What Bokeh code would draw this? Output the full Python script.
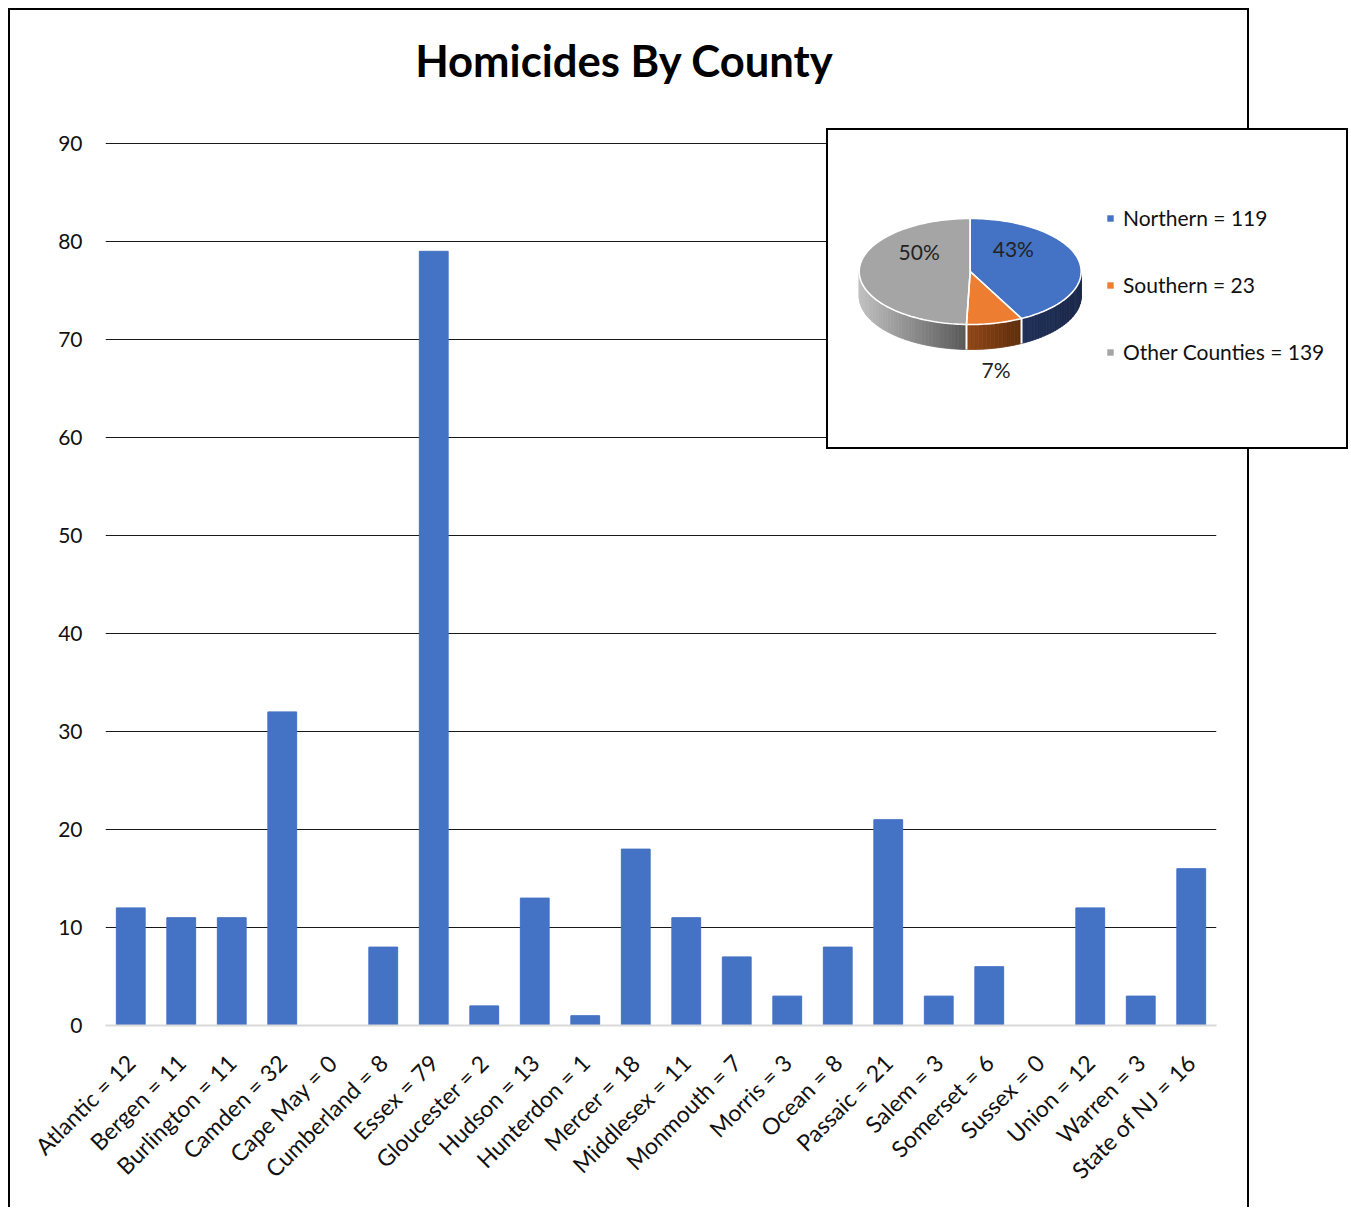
import math
import numpy as np
from bokeh.plotting import figure
from bokeh.models import (ColumnDataSource, FactorRange, Range1d, FixedTicker,
                          Legend, LegendItem, Label)
from bokeh.core.properties import value
from bokeh.embed import file_html
from bokeh.resources import INLINE

# ---------------- data ----------------
title_text = "Homicides By County"
counties = ["Atlantic", "Bergen", "Burlington", "Camden", "Cape May", "Cumberland",
            "Essex", "Gloucester", "Hudson", "Hunterdon", "Mercer", "Middlesex",
            "Monmouth", "Morris", "Ocean", "Passaic", "Salem", "Somerset", "Sussex",
            "Union", "Warren", "State of NJ"]
homicides = [12, 11, 11, 32, 0, 8, 79, 2, 13, 1, 18, 11, 7, 3, 8, 21, 3, 6, 0, 12, 3, 16]
y_ticks = [0, 10, 20, 30, 40, 50, 60, 70, 80, 90]

regions = ["Northern", "Southern", "Other Counties"]
region_counts = [119, 23, 139]
region_pct_text = ["43%", "7%", "50%"]

# ---------------- styles ----------------
FONT = "Lato"
BAR_COLOR = "#4472C4"
top_colors = ["#4472C4", "#ED7D31", "#A5A5A5"]
side_left = [(33, 49, 88), (146, 72, 24), (192, 192, 192)]
side_right = [(27, 40, 74), (94, 45, 12), (88, 88, 88)]
label_r = [0.40, 1.05, 0.46]
label_dy = [-18, 44, -20]

labels = [f"{c} = {v}" for c, v in zip(counties, homicides)]

# ---------------- main bar chart ----------------
W, H = 1241, 1199
FRAME_BOTTOM = 1015          # canvas px of the value 0
PX_PER_UNIT = 9.8
p = figure(width=W, height=H, x_range=FactorRange(*labels),
           y_range=Range1d(0, FRAME_BOTTOM / PX_PER_UNIT),
           output_backend="svg", toolbar_location=None,
           min_border_left=95, min_border_right=35, min_border_top=0,
           min_border_bottom=H - FRAME_BOTTOM)
p.styles = {"margin-left": "8px", "margin-top": "8px",
            "border-left": "2px solid black", "border-top": "2px solid black",
            "border-right": "2px solid black"}
p.outline_line_color = None
p.background_fill_color = "white"
p.border_fill_color = "white"

p.add_layout(Label(x=519, y=966, x_units="screen", y_units="screen", text=title_text,
                   text_align="center", text_baseline="alphabetic",
                   text_font=FONT, text_font_size="43.6px", text_font_style="bold",
                   text_color="black"))

src = ColumnDataSource(dict(x=labels, top=homicides))
p.vbar(x="x", top="top", width=0.57, source=src, fill_color=BAR_COLOR, line_color=BAR_COLOR)

p.yaxis.ticker = FixedTicker(ticks=y_ticks)
p.yaxis.axis_line_color = None
p.yaxis.major_tick_line_color = None
p.yaxis.minor_tick_line_color = None
p.yaxis.major_label_text_font = FONT
p.yaxis.major_label_text_font_size = "21px"
p.yaxis.major_label_text_color = "#111111"
p.yaxis.major_label_standoff = 17

p.xaxis.axis_line_color = "#d9d9d9"
p.xaxis.axis_line_width = 2
p.xaxis.major_tick_line_color = None
p.xaxis.minor_tick_line_color = None
p.xaxis.major_label_orientation = math.pi / 4
p.xaxis.major_label_text_font = FONT
p.xaxis.major_label_text_font_size = "23px"
p.xaxis.major_label_text_color = "#111111"
p.xaxis.major_label_standoff = 27

p.xgrid.grid_line_color = None
p.ygrid.ticker = FixedTicker(ticks=y_ticks[1:])
p.ygrid.grid_line_color = "#1a1a1a"
p.ygrid.grid_line_width = 1

# ---------------- inset 3D pie ----------------
QW, QH = 522, 321
q = figure(width=QW, height=QH, x_range=Range1d(0, QW), y_range=Range1d(QH, 0),
           output_backend="svg", toolbar_location=None, min_border=0)
q.axis.visible = False
q.grid.visible = False
q.outline_line_color = None
q.background_fill_color = "white"
q.border_fill_color = "white"
q.styles = {"position": "fixed", "left": "826px", "top": "128px",
            "border": "2px solid black", "background": "white"}

cx, cy, rx, ry, depth = 141.7, 141.0, 111.0, 53.0, 25.0
total = float(sum(region_counts))
fr = np.array(region_counts) / total
starts = np.concatenate([[0.0], np.cumsum(fr)[:-1]]) * 360.0
ends = starts + fr * 360.0


def ex(t):
    return cx + rx * np.sin(np.radians(t))


def ey(t):
    return cy - ry * np.cos(np.radians(t))


def mix(c1, c2, f):
    f = min(max(f, 0.0), 1.0)
    r, g, b = (int(round(a + (bb - a) * f)) for a, bb in zip(c1, c2))
    return f"#{r:02x}{g:02x}{b:02x}"


sxs, sys_, scol = [], [], []
for i in range(len(region_counts)):
    a = max(starts[i], 90.0)
    b = min(ends[i], 270.0)
    if b <= a:
        continue
    n = max(2, int((b - a) / 2) + 1)
    th = np.linspace(a, b, n)
    xa, xb = ex(a), ex(b)
    lo, span = min(xa, xb), abs(xa - xb)
    for k in range(n - 1):
        t1, t2 = th[k], th[k + 1]
        sxs.append([ex(t1), ex(t2), ex(t2), ex(t1)])
        sys_.append([ey(t1), ey(t2), ey(t2) + depth, ey(t1) + depth])
        xm = (ex(t1) + ex(t2)) / 2.0
        scol.append(mix(side_left[i], side_right[i], (xm - lo) / span if span else 0))
q.patches(xs=sxs, ys=sys_, fill_color=scol, line_color=scol, line_width=0.8)

# white separators on the side wall
bx, by0, by1 = [], [], []
for t in list(starts) + [360.0]:
    if 90.0 < t < 270.0:
        bx.append(ex(t)); by0.append(ey(t)); by1.append(ey(t) + depth)
q.segment(x0=bx, y0=by0, x1=bx, y1=by1, line_color="white", line_width=2)

# top faces
txs, tys = [], []
for i in range(len(region_counts)):
    n = max(3, int((ends[i] - starts[i]) / 1.5) + 1)
    th = np.linspace(starts[i], ends[i], n)
    txs.append([cx] + list(ex(th)))
    tys.append([cy] + list(ey(th)))
top_src = ColumnDataSource(dict(xs=txs, ys=tys, color=top_colors))
top_r = q.patches(xs="xs", ys="ys", fill_color="color", line_color=None, source=top_src)
q.multi_line(xs=[x + [x[0]] for x in txs], ys=[y + [y[0]] for y in tys],
             line_color="white", line_width=1.6)

# percentage labels
mids = (starts + ends) / 2.0
lx = [cx + label_r[i] * rx * math.sin(math.radians(mids[i])) for i in range(3)]
ly = [cy - label_r[i] * ry * math.cos(math.radians(mids[i])) + label_dy[i] for i in range(3)]
q.text(x=lx, y=ly, text=region_pct_text, text_align="center", text_baseline="middle",
       text_font=value(FONT), text_font_size="21px", text_color="#222222")

legend = Legend(items=[LegendItem(label=f"{n} = {c}", renderers=[top_r], index=i)
                       for i, (n, c) in enumerate(zip(regions, region_counts))],
                location=(278, 87), glyph_width=8, glyph_height=8, label_standoff=9,
                spacing=42, padding=0, margin=0, border_line_color=None,
                background_fill_alpha=0, label_text_font=FONT,
                label_text_font_size="21px", label_text_color="#111111")
q.add_layout(legend)

open("out.html", "w").write(file_html([p, q], INLINE))
